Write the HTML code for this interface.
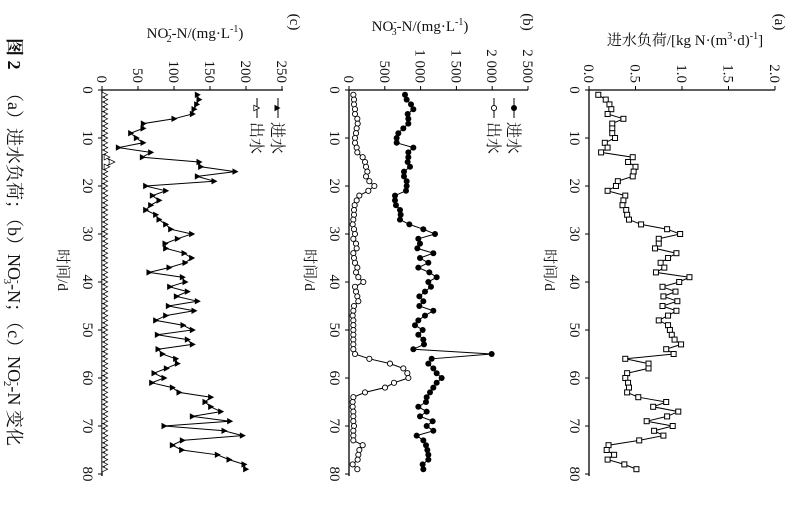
<!DOCTYPE html>
<html><head><meta charset="utf-8"><style>
html,body{margin:0;padding:0;background:#fff;width:807px;height:506px;overflow:hidden}
svg{display:block}
text{font-family:"Liberation Serif","Noto Serif CJK SC",serif;fill:#111}
</style></head><body>
<svg id="s" width="807" height="506" viewBox="0 0 807 506" xmlns="http://www.w3.org/2000/svg">
<g id="g" transform="translate(807,0) rotate(90)"></g>
</svg>
<script>
var o='';
function X(t){return 90+4.8*t;}
function axes(y0,y1,vals,labels,title,titleX,titleY,tag,tagY){
  o+='<line x1="90" y1="'+y0+'" x2="476" y2="'+y0+'" stroke="#000" stroke-width="1.3"/>';
  o+='<line x1="90" y1="'+(y0+0.6)+'" x2="90" y2="'+y1+'" stroke="#000" stroke-width="1.3"/>';
  for(var t=0;t<=80;t+=10){o+='<line x1="'+X(t)+'" y1="'+y0+'" x2="'+X(t)+'" y2="'+(y0+4)+'" stroke="#000"/>';
    o+='<text x="'+X(t)+'" y="'+(y0+19)+'" font-size="15" text-anchor="middle">'+t+'</text>';}
  for(var i=0;i<vals.length;i++){var y=vals[i];
    o+='<line x1="86" y1="'+y+'" x2="90" y2="'+y+'" stroke="#000"/>';
    o+='<text x="83" y="'+(y+5)+'" font-size="15" text-anchor="end">'+labels[i]+'</text>';}
  o+='<text x="270" y="'+(y0+44)+'" font-size="15" text-anchor="middle">时间/d</text>';
  o+='<text transform="translate('+titleX+','+titleY+') rotate(-90)" font-size="15" text-anchor="middle">'+title+'</text>';
  o+='<text x="22" y="'+tagY+'" font-size="15" text-anchor="middle">'+tag+'</text>';
}
function series(arr,f,marker){
  var pts=[];for(var i=0;i<arr.length;i++)pts.push(X(i+1).toFixed(1)+','+f(arr[i]).toFixed(1));
  o+='<polyline points="'+pts.join(' ')+'" fill="none" stroke="#000" stroke-width="1"/>';
  for(var i=0;i<arr.length;i++)o+=marker(X(i+1),f(arr[i]));
}
function sq(x,y){return '<rect x="'+(x-2.5)+'" y="'+(y-2.5)+'" width="5" height="5" fill="#fff" stroke="#000" stroke-width="1"/>';}
function cf(x,y){return '<circle cx="'+x+'" cy="'+y+'" r="3" fill="#000"/>';}
function co(x,y){return '<circle cx="'+x+'" cy="'+y+'" r="2.6" fill="#fff" stroke="#000" stroke-width="0.9"/>';}
function tf(x,y){return '<polygon points="'+x+','+(y-3.5)+' '+(x-3.2)+','+(y+2.5)+' '+(x+3.2)+','+(y+2.5)+'" fill="#000"/>';}
function to(x,y){return '<polygon points="'+x+','+(y-3.5)+' '+(x-2.8)+','+(y+2.2)+' '+(x+2.8)+','+(y+2.2)+'" fill="#fff" stroke="#000" stroke-width="0.7"/>';}

/* Panel a */
var A=[0.1,0.18,0.22,0.24,0.2,0.37,0.25,0.25,0.25,0.28,0.17,0.2,0.13,0.47,0.42,0.5,0.48,0.47,0.31,0.29,0.2,0.39,0.37,0.36,0.4,0.41,0.43,0.56,0.84,0.98,0.75,0.75,0.71,0.94,0.85,0.77,0.81,0.72,1.08,0.97,0.79,0.93,0.8,0.95,0.79,0.94,0.85,0.75,0.85,0.87,0.89,0.92,0.99,0.83,0.91,0.39,0.64,0.64,0.41,0.39,0.42,0.43,0.41,0.53,0.83,0.69,0.96,0.84,0.62,0.9,0.7,0.8,0.54,0.21,0.19,0.27,0.2,0.38,0.51];
function fa(v){return 218-93*v;}
axes(218,32,[fa(0),fa(0.5),fa(1),fa(1.5),fa(2)],['0.0','0.5','1.0','1.5','2.0'],'进水负荷/[kg N·(m<tspan font-size="10" dy="-6">3</tspan><tspan dy="6">·d)</tspan><tspan font-size="10" dy="-6">-1</tspan><tspan dy="6">]</tspan>',45,122,'(a)',32);
series(A,fa,sq);

/* Panel b */
function fb(v){return 458-v*0.0716;}
function zb2(z){return (z/3-69)/0.0716;}
function zb5(z){return (z/3-49)/0.0716;}
var b1=[375,380,393,400,383,385,385,370,355,350,350,400,385,385,383,390,372,372,380,380,378,345,345,348,360,362].map(zb2);
var b2=[300,328,370,405,355,360,352,400,360,385,355,388,410,385,393,375,358,370,358,400,375,355,345,368,355,370,372,340,575,395,385,400,410,425,410,400,390,380,378,355,380,360,398,380,400,350,370,378,382,385,385,368,370].map(zb5);
var B=b1.concat(b2).slice(0,79);
var c1=[220,222,222,225,225,232,233,230,228,225,225,230,232,248,255,258,262,258,268,283,265,238,230,224,222,222].map(zb2);
var c2=[160,158,162,165,160,168,170,160,162,165,172,168,175,190,165,168,172,175,162,160,158,160,160,160,160,160,160,160,165,208,270,310,322,325,282,255,195,160,158,158,160,160,160,162,160,160,160,188,178,175,173,158,172,175].map(zb5);
var Bo=c1.concat(c2).slice(0,79);
axes(458,279,[fb(0),fb(500),fb(1000),fb(1500),fb(2000),fb(2500)],['0','500','1 000','1 500','2 000','2 500'],'NO<tspan font-size="10" dy="-6">-</tspan><tspan font-size="10" dx="-5" dy="10">3</tspan><tspan dy="-4">-N/(mg·L</tspan><tspan font-size="10" dy="-6">-1</tspan><tspan dy="6">)</tspan>',31,387,'(b)',284);
series(Bo,fb,co);
series(B,fb,cf);
o+='<line x1="98" y1="293" x2="118" y2="293" stroke="#000"/>'+cf(108,293)+'<text x="122" y="299" font-size="16">进水</text>';
o+='<line x1="98" y1="313" x2="118" y2="313" stroke="#000"/>'+co(108,313)+'<text x="122" y="319" font-size="16">出水</text>';

/* Panel c */
function fc(v){return 705-v*0.72;}
function zc3(z){return (z/3-103)/0.72;}
function zc6(z){return (z/3-43)/0.72;}
var n1=[595,600,593,585,580,525,433,432,395,412,432,358,455,430,600,605,708,595,645,440,500,460,480,455,440,470].map(zc3);
var n2=[300,320,335,398,355,318,320,375,398,378,330,270,370,378,332,385,352,415,328,405,320,290,372,400,295,385,400,297,310,350,355,322,285,315,278,340,360,455,438,455,485,400,512,315,495,550,370,340,368,475,510,555,560].map(zc6);
var N=n1.concat(n2).slice(0,79);
var No=[];for(var i=0;i<79;i++)No.push(i==14?13:(i==13||i==15?6:3));
axes(705,524,[fc(0),fc(50),fc(100),fc(150),fc(200),fc(250)],['0','50','100','150','200','250'],'NO<tspan font-size="10" dy="-6">-</tspan><tspan font-size="10" dx="-5" dy="10">2</tspan><tspan dy="-4">-N/(mg·L</tspan><tspan font-size="10" dy="-6">-1</tspan><tspan dy="6">)</tspan>',38,612,'(c)',517);
series(No,fc,to);
series(N,fc,tf);
o+='<line x1="98" y1="529" x2="118" y2="529" stroke="#000"/>'+tf(108,530)+'<text x="122" y="535" font-size="16">进水</text>';
o+='<line x1="98" y1="550" x2="118" y2="550" stroke="#000"/>'+to(108,551)+'<text x="122" y="556" font-size="16">出水</text>';

/* caption */
o+='<text x="38" y="799" font-size="18" font-weight="bold" font-family="Liberation Sans,Noto Sans CJK SC,sans-serif">图 2</text>';
o+='<text x="84" y="799" font-size="18">（a）进水负荷；（b）NO<tspan font-size="11" dy="-7">-</tspan><tspan font-size="11" dx="-5" dy="11">3</tspan><tspan dy="-4">-N；（c）NO</tspan><tspan font-size="11" dy="-7">-</tspan><tspan font-size="11" dx="-5" dy="11">2</tspan><tspan dy="-4">-N 变化</tspan></text>';
document.getElementById('g').innerHTML=o;
</script>
</body></html>
